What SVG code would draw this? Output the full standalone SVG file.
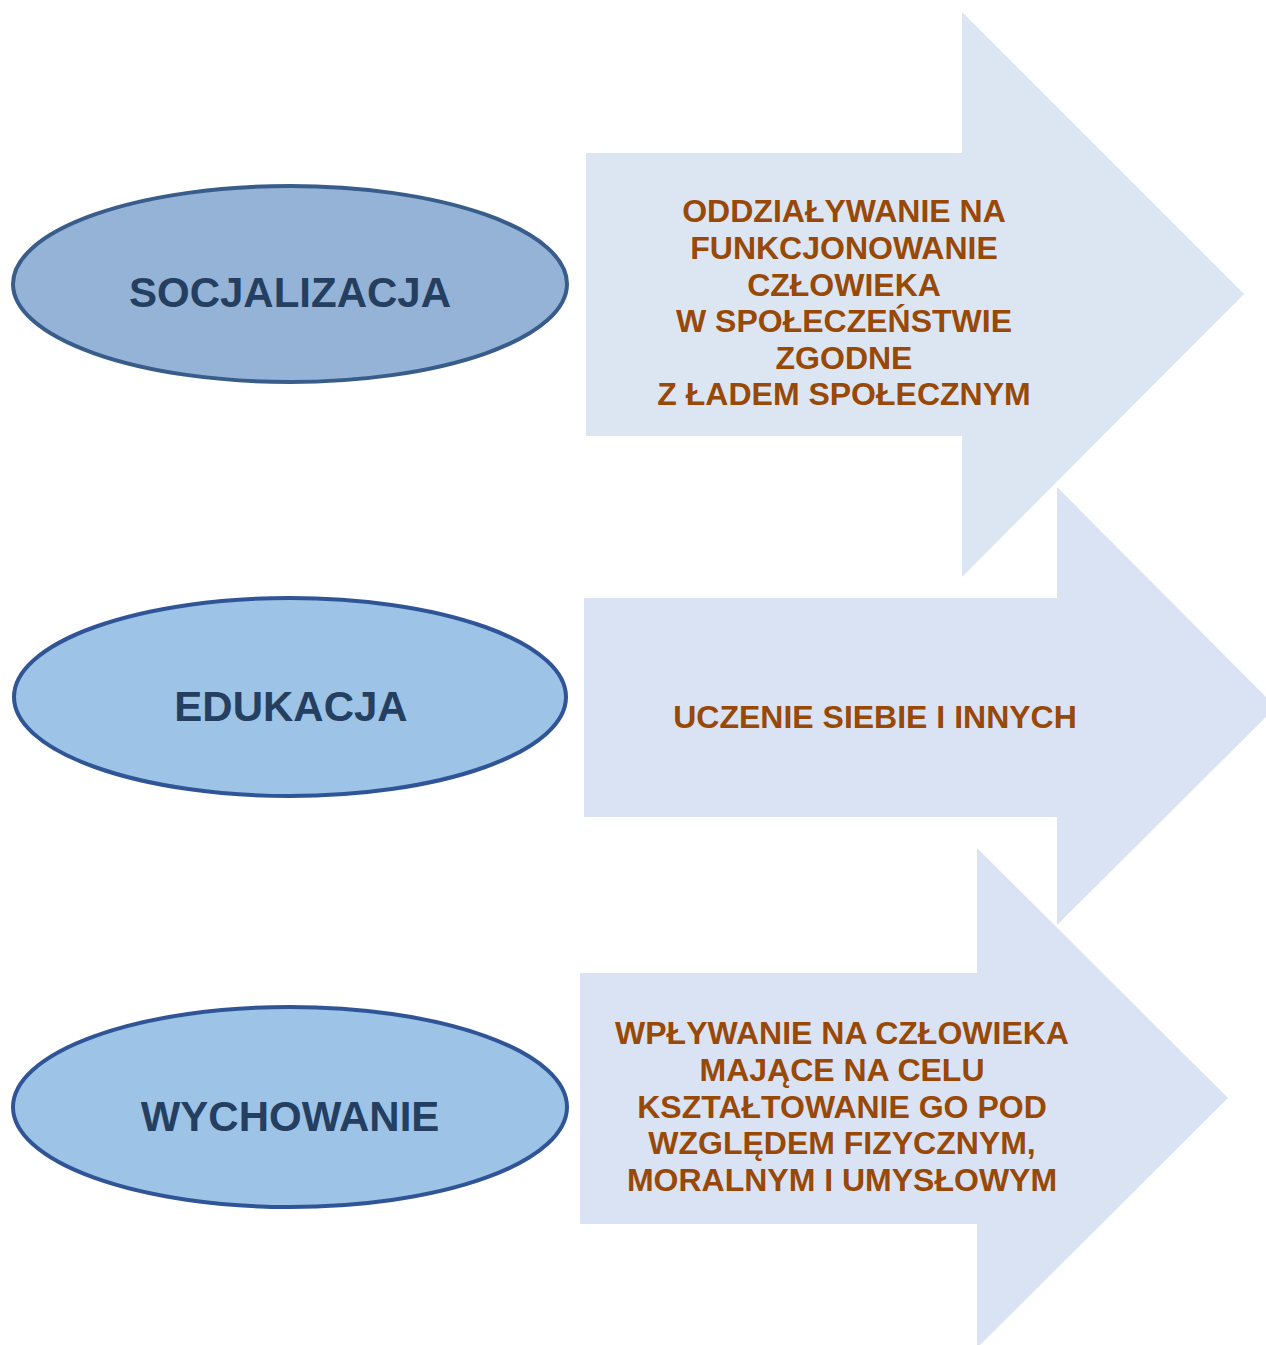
<svg xmlns="http://www.w3.org/2000/svg" width="1266" height="1345" viewBox="0 0 1266 1345">
<style>
.arrow{stroke:none}
.a1{fill:#DCE6F2}
.a2{fill:#DAE3F3}
.e1{fill:#95B3D7;stroke:#385D8A;stroke-width:4}
.e2{fill:#9DC3E6;stroke:#2F5597;stroke-width:4}
.lbl{font-family:"Liberation Sans",Arial,sans-serif;font-weight:bold;font-size:42px;fill:#243F60;text-anchor:middle}
.txt{font-family:"Liberation Sans",Arial,sans-serif;font-weight:bold;font-size:32px;fill:#984807;text-anchor:middle}
</style>
<rect width="1266" height="1345" fill="#FFFFFF"/>
<g id="arrow-1">
<polygon class="arrow a1" points="586,153 962,153 962,12 1244,294 962,577 962,436 586,436"/>
<text class="txt" x="844" y="222">ODDZIAŁYWANIE NA</text>
<text class="txt" x="844" y="259">FUNKCJONOWANIE</text>
<text class="txt" x="844" y="296">CZŁOWIEKA</text>
<text class="txt" x="844" y="332">W SPOŁECZEŃSTWIE</text>
<text class="txt" x="844" y="369">ZGODNE</text>
<text class="txt" x="844" y="405">Z ŁADEM SPOŁECZNYM</text>
</g>
<g id="arrow-2">
<polygon class="arrow a2" points="584,598 1057,598 1057,487 1276,707 1057,925 1057,817 584,817"/>
<text class="txt" x="875" y="728">UCZENIE SIEBIE I INNYCH</text>
</g>
<g id="arrow-3">
<polygon class="arrow a2" points="580,973 977,973 977,848 1228,1098 977,1348 977,1224 580,1224"/>
<text class="txt" x="842" y="1044">WPŁYWANIE NA CZŁOWIEKA</text>
<text class="txt" x="842" y="1081">MAJĄCE NA CELU</text>
<text class="txt" x="842" y="1118">KSZTAŁTOWANIE GO POD</text>
<text class="txt" x="842" y="1154">WZGLĘDEM FIZYCZNYM,</text>
<text class="txt" x="842" y="1191">MORALNYM I UMYSŁOWYM</text>
</g>
<g id="node-socjalizacja">
<ellipse class="e1" cx="290" cy="284" rx="277" ry="98"/>
<text class="lbl" x="290" y="307">SOCJALIZACJA</text>
</g>
<g id="node-edukacja">
<ellipse class="e2" cx="290" cy="697" rx="276" ry="99"/>
<text class="lbl" x="291" y="721">EDUKACJA</text>
</g>
<g id="node-wychowanie">
<ellipse class="e2" cx="290" cy="1107" rx="277" ry="100"/>
<text class="lbl" x="290" y="1131">WYCHOWANIE</text>
</g>
</svg>
